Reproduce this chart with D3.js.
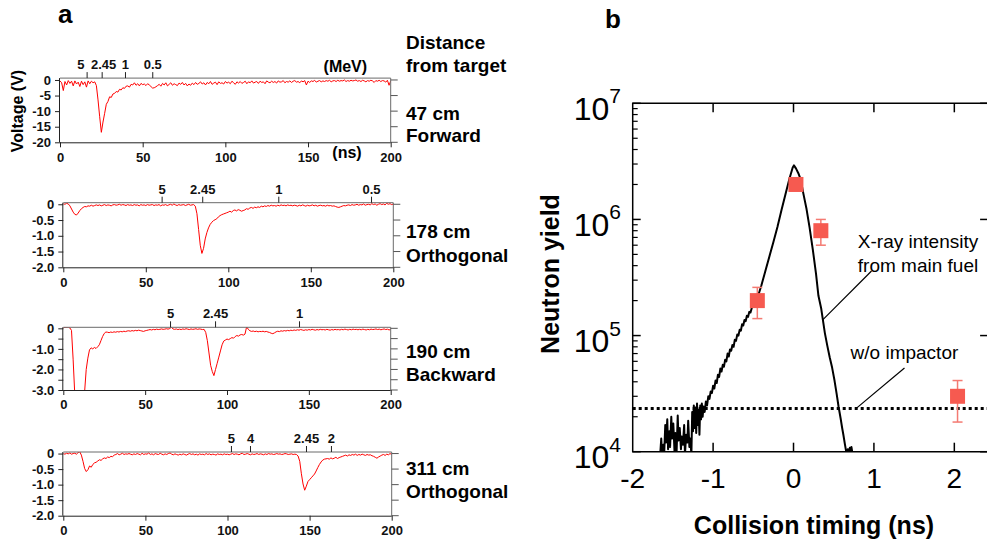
<!DOCTYPE html>
<html><head><meta charset="utf-8">
<script src="https://cdn.jsdelivr.net/npm/d3@7"></script>
<style>body{margin:0;background:#fff}svg{display:block}text{font-family:"Liberation Sans",Arial,Helvetica,sans-serif}</style>
</head><body><svg id="c" width="987" height="542"></svg>
<script>
// ---------------- DATA: panel a (neutron TOF signals, 1 ns sampling, t = 0..200 ns) ----------------
const timeTicks = [0, 50, 100, 150, 200];
const timeTickLabels = ["0", "50", "100", "150", "200"];
const sampleStepNs = 1;

const trace47 = [
-0.3,-0.9,-3.4,-0.5,-1.6,-0.2,-1.1,-0.4,-1.9,-0.3,-1.3,-0.7,-2.1,-0.4,-1.5,-0.6,-2.3,-0.3,-1.2,-0.4,-0.9,-0.6,-1.8,
-6.4,-11.8,-16.8,-13.5,-10.7,-7.8,-6.9,-5.4,-5.6,-4.5,-4.3,-3.7,-3.9,-3.0,-3.2,-2.5,-2.7,-2.0,
-1.9,-2.3,-1.4,-1.6,-0.9,-1.7,-1.2,-1.9,-1.1,-1.5,-1.3,-1.8,-1.2,-1.6,-2.1,-2.6,-2.5,-2.2,-1.8,-1.4,
-2.0,-1.1,-1.6,-0.9,-1.9,-1.4,-0.9,-1.7,-1.2,-1.5,-1.8,-1.0,-1.4,-0.8,-1.6,-1.1,-1.9,-1.3,-1.7,-1.0,
-1.5,-0.8,-1.4,-1.1,-0.6,-1.3,-0.9,-1.6,-0.8,-1.2,-0.5,-1.4,-1.0,-0.7,-1.5,-0.6,-1.1,-0.9,-1.3,-0.5,
-1.0,-0.7,-1.2,-0.4,-0.9,-1.4,-0.6,-1.0,-0.5,-1.1,-0.8,-0.4,-1.2,-0.6,-0.9,-0.3,-1.0,-0.7,-0.5,-1.1,
-0.4,-0.8,-0.6,-1.2,-0.3,-0.7,-0.9,-0.4,-0.8,-0.5,-1.0,-0.3,-0.7,-0.6,-0.2,-0.9,-0.5,-0.7,-0.3,-0.8,
-0.4,-0.2,-0.7,-0.5,-0.9,-0.3,-0.6,-0.2,-1.6,-0.4,-0.8,-0.3,-0.5,-0.1,-0.7,-0.4,-0.2,-0.6,-0.3,-0.5,
-0.2,-0.4,-0.1,-0.6,-0.3,-0.2,-0.5,-0.1,-0.4,-0.2,-0.3,0.0,-0.5,-0.2,-0.4,-0.1,-0.3,-0.2,0.0,-0.4,
-0.2,-0.5,-0.1,-0.3,-0.6,-0.2,-0.4,-0.1,-0.3,-0.8,-0.2,-0.4,-0.1,-0.5,-0.2,-0.3,-0.7,-0.1,-1.7,-0.3];

const trace178 = [
0.02,0.0,0.03,0.01,-0.05,-0.15,-0.25,-0.32,-0.34,-0.28,-0.2,
-0.14,-0.1,-0.07,-0.08,-0.05,-0.06,-0.03,-0.06,-0.04,-0.02,
-0.04,-0.02,-0.05,-0.03,-0.01,-0.04,-0.02,-0.03,-0.05,-0.02,-0.01,-0.03,-0.02,0.0,-0.03,-0.01,-0.02,-0.04,-0.01,-0.03,
-0.02,-0.04,-0.01,-0.03,-0.02,-0.05,-0.01,-0.03,-0.02,-0.04,-0.01,-0.03,-0.02,-0.01,-0.04,-0.02,-0.03,-0.01,-0.05,-0.02,
-0.03,-0.01,-0.04,-0.02,0.0,-0.03,0.01,-0.02,-0.04,-0.01,-0.03,-0.02,-0.01,-0.04,-0.02,0.0,-0.03,-0.02,-0.01,-0.06,
-0.3,-0.8,-1.3,-1.56,-1.4,-1.1,-0.9,-0.75,-0.64,-0.57,-0.52,-0.49,-0.46,-0.40,-0.36,-0.33,-0.31,-0.29,-0.27,-0.25,
-0.22,-0.25,-0.20,-0.18,-0.21,-0.17,-0.19,-0.22,-0.20,-0.18,-0.14,-0.16,-0.12,-0.10,-0.13,-0.09,-0.11,-0.08,-0.10,-0.06,
-0.08,-0.05,-0.07,-0.04,-0.06,-0.03,-0.05,-0.04,-0.06,-0.03,-0.05,-0.02,-0.04,-0.03,-0.05,-0.02,-0.04,-0.03,-0.05,-0.03,
-0.04,-0.06,-0.03,-0.05,-0.02,-0.04,-0.06,-0.03,-0.05,-0.04,-0.02,-0.05,-0.03,-0.06,-0.04,-0.03,-0.05,-0.04,-0.06,-0.03,
-0.05,-0.04,-0.06,-0.05,-0.07,-0.09,-0.10,-0.08,-0.06,-0.04,-0.05,-0.03,-0.02,-0.04,-0.01,-0.03,-0.02,0.0,-0.03,-0.01,
-0.02,0.01,-0.03,-0.01,0.0,-0.02,0.02,-0.01,0.01,-0.03,0.0,0.02,-0.01,0.01,-0.02,0.03,0.0,0.02,-0.01,0.01];

const trace190 = [
0.02,0.05,0.04,0.06,0.02,-0.1,-1.5,-3.2,-3.5,-3.5,-3.5,-3.5,-3.5,-3.1,-2.0,-1.45,-1.05,-0.95,-1.0,-0.93,-0.98,-0.9,-0.8,-0.6,-0.4,-0.25,-0.18,
-0.19,-0.21,-0.18,-0.2,-0.17,-0.19,-0.16,-0.18,-0.15,-0.17,-0.14,-0.16,-0.13,-0.12,-0.14,-0.11,-0.13,-0.1,-0.12,-0.09,-0.11,-0.13,-0.15,-0.12,
-0.1,-0.08,-0.06,-0.08,-0.05,-0.07,-0.04,-0.06,-0.05,-0.03,-0.05,-0.04,-0.02,-0.04,-0.01,0.05,-0.03,-0.05,-0.03,-0.06,
-0.04,-0.06,-0.03,-0.05,-0.02,-0.04,-0.06,-0.03,-0.05,-0.04,-0.02,-0.05,-0.03,-0.04,-0.06,-0.05,
-0.2,-0.6,-1.2,-1.8,-2.1,-2.3,-2.0,-1.7,-1.4,-1.1,-0.8,-0.62,-0.57,-0.52,
-0.55,-0.5,-0.45,-0.48,-0.4,-0.35,-0.38,-0.32,-0.3,-0.33,-0.28,0.08,-0.05,-0.12,-0.15,-0.13,-0.16,-0.14,-0.17,-0.15,
-0.16,-0.14,-0.17,-0.15,-0.18,-0.2,-0.24,-0.26,-0.22,-0.17,-0.14,-0.16,-0.12,-0.14,-0.11,-0.13,-0.1,-0.12,-0.09,-0.11,
-0.08,-0.1,-0.07,-0.09,-0.06,-0.08,-0.1,-0.07,-0.09,-0.06,-0.08,-0.05,-0.07,-0.09,-0.06,-0.08,-0.05,-0.07,-0.06,-0.08,
-0.05,-0.07,-0.09,-0.06,-0.08,-0.05,-0.07,-0.06,-0.08,-0.05,-0.07,-0.04,-0.06,-0.08,-0.05,-0.07,-0.04,-0.06,-0.05,-0.07,
-0.05,-0.07,-0.04,-0.06,-0.08,-0.05,-0.07,-0.04,-0.06,-0.05,-0.03,-0.06,-0.04,-0.07,-0.05,-0.03,-0.06,-0.04,-0.08,-0.05];

const trace311 = [
0.0,-0.02,0.01,-0.01,0.02,-0.02,0.0,0.01,-0.02,0.03,0.06,-0.05,-0.25,-0.48,-0.58,-0.52,-0.4,-0.44,-0.35,-0.3,-0.28,
-0.24,-0.2,-0.22,-0.17,-0.14,-0.16,-0.11,-0.13,-0.09,-0.1,-0.05,-0.03,0.0,-0.04,-0.02,0.01,-0.03,-0.01,-0.02,0.0,
-0.02,-0.04,-0.01,-0.03,0.0,-0.02,-0.04,0.01,-0.03,-0.01,-0.02,0.02,-0.03,-0.01,-0.04,0.0,-0.02,-0.03,0.01,-0.02,
-0.04,-0.01,-0.03,0.0,0.02,-0.02,-0.04,-0.01,-0.03,-0.05,-0.02,-0.04,-0.01,-0.03,-0.05,-0.02,0.0,-0.03,-0.01,-0.04,
-0.02,-0.05,-0.01,-0.03,-0.02,-0.04,0.0,-0.03,-0.01,-0.04,-0.02,-0.03,-0.05,-0.01,-0.03,-0.02,-0.04,-0.01,-0.03,-0.02,
-0.04,-0.02,0.0,-0.03,-0.01,-0.02,-0.04,-0.01,0.01,-0.03,-0.02,0.0,-0.02,-0.04,-0.01,-0.03,-0.02,0.0,-0.03,-0.01,
-0.02,-0.04,-0.01,-0.03,0.0,-0.02,-0.01,-0.03,-0.02,0.0,-0.02,-0.01,-0.03,-0.02,0.0,-0.01,-0.03,-0.02,-0.01,-0.03,
-0.02,-0.03,-0.08,-0.25,-0.65,-0.98,-1.18,-1.05,-0.9,-0.84,-0.78,-0.72,-0.66,-0.56,-0.45,-0.35,-0.27,-0.21,-0.18,-0.17,
-0.16,-0.18,-0.14,-0.17,-0.15,-0.12,-0.16,-0.13,-0.11,-0.09,-0.07,-0.05,-0.08,-0.04,-0.06,-0.03,-0.05,-0.02,-0.06,-0.03,
-0.05,-0.02,-0.04,-0.06,-0.03,-0.05,-0.04,-0.07,-0.09,-0.12,-0.15,-0.11,-0.08,-0.05,-0.03,-0.06,-0.02,-0.04,0.0,-0.03];

const distanceLabels = ["47 cm", "178 cm", "190 cm", "311 cm"];
const directionLabels = ["Forward", "Orthogonal", "Backward", "Orthogonal"];
const voltTicks = [[0,-5,-10,-15,-20],[0,-0.5,-1.0,-1.5,-2.0],[0,-0.5,-1.0,-1.5,-2.0,-2.5,-3.0],[0,-0.5,-1.0,-1.5,-2.0]];
const voltTickLabels = [["0","-5","-10","-15","-20"],["0","-0.5","-1.0","-1.5","-2.0"],["0","","-1.0","","-2.0","","-3.0"],["0","-0.5","-1.0","-1.5","-2.0"]];
const voltMin = [-20, -2, -3, -2];
const voltMax = [0.6, 0.05, 0.05, 0.05];
// neutron energy (MeV) ticks placed at their time of flight (ns)
const energyTickNs = [[16.1, 25.2, 39.3, 55.8],[59.6, 84.2, 130.3, 186.5],[65.2, 92.7, 144.0],[102.1, 113.7, 147.8, 163.0]];
const energyTickLabels = [["5","2.45","1","0.5"],["5","2.45","1","0.5"],["5","2.45","1"],["5","4","2.45","2"]];

// ---------------- DATA: panel b ----------------
const xrayTime = [-1.66,-1.645,-1.635,-1.62,-1.61,-1.595,-1.585,-1.57,-1.56,-1.545,-1.535,-1.52,-1.51,-1.495,-1.48,-1.47,-1.455,-1.44,-1.43,-1.415,-1.40,-1.39,-1.375,-1.36,-1.35,-1.335,-1.32,-1.31,-1.295,-1.285,-1.27,-1.26,-1.25,-1.24,-1.23,-1.22,-1.21,-1.20,-1.19,-1.18,-1.17,-1.16,-1.15,-1.14,-1.13,-1.12,-1.105,-1.09,-1.075,-1.06,-1.045,-1.03,-1.015,-1.0,-0.985,-0.97,-0.955,-0.94,-0.925,-0.91,-0.895,-0.88,-0.865,-0.85,-0.835,-0.82,-0.805,-0.79,-0.775,-0.76,-0.745,-0.73,-0.715,-0.70,-0.685,-0.67,-0.655,-0.64,-0.625,-0.61,-0.595,-0.58,-0.565,-0.55,-0.535,-0.52,-0.50,-0.48,-0.44,-0.40,-0.35,-0.30,-0.25,-0.20,-0.15,-0.10,-0.05,-0.01,0.005,0.03,0.06,0.09,0.12,0.16,0.20,0.24,0.28,0.31,0.345,0.37,0.39,0.42,0.45,0.48,0.51,0.535,0.56,0.585,0.605,0.62,0.64,0.655,0.665,0.675,0.685,0.70,0.71,0.72,0.735,0.74];
const xrayYield = [0.9e4,1.3e4,0.95e4,1.15e4,0.9e4,1.7e4,1.2e4,1.9e4,1.05e4,1.5e4,1.1e4,2.0e4,1.3e4,1.75e4,1.0e4,1.45e4,0.95e4,2.05e4,1.25e4,1.6e4,1.05e4,1.35e4,1.15e4,1.7e4,0.95e4,1.4e4,1.2e4,1.85e4,1.1e4,1.3e4,0.95e4,2.2e4,1.5e4,2.5e4,1.6e4,2.4e4,1.45e4,2.6e4,1.7e4,2.3e4,1.4e4,2.5e4,1.9e4,2.6e4,2.0e4,2.45e4,2.2e4,2.7e4,2.5e4,3.0e4,2.85e4,3.3e4,3.2e4,3.7e4,3.5e4,4.1e4,3.9e4,4.6e4,4.4e4,5.2e4,4.9e4,5.6e4,5.4e4,6.2e4,6.0e4,7.0e4,6.6e4,7.6e4,7.4e4,8.3e4,8.0e4,9.2e4,9.0e4,1.02e5,1.0e5,1.12e5,1.1e5,1.25e5,1.22e5,1.36e5,1.33e5,1.48e5,1.45e5,1.6e5,1.58e5,1.72e5,1.85e5,2.05e5,2.2e5,2.7e5,3.6e5,4.8e5,6.4e5,8.6e5,1.2e6,1.65e6,2.25e6,2.8e6,2.92e6,2.75e6,2.5e6,2.2e6,1.7e6,1.25e6,8.5e5,5.5e5,3.4e5,2.2e5,1.7e5,1.3e5,1.05e5,8.2e4,6.5e4,5.3e4,4.1e4,3.2e4,2.45e4,1.95e4,1.6e4,1.4e4,1.15e4,1.0e4,0.95e4,1.05e4,0.95e4,1.08e4,0.95e4,1.1e4,0.95e4,0.9e4];
const withoutImpactorYield = 2.36e4;
const neutronTime = [-0.45, 0.03, 0.34, 2.04];
const neutronYield = [2.0e5, 2.0e6, 8.0e5, 3.0e4];
const neutronLow = [1.4e5, 2.0e6, 6.0e5, 1.8e4];
const neutronHigh = [2.6e5, 2.0e6, 1.0e6, 4.1e4];
const timingTicks = [-2, -1, 0, 1, 2];
const timingTickLabels = ["-2", "-1", "0", "1", "2"];
const yieldDecades = [1e4, 1e5, 1e6, 1e7];
const yieldDecadeExp = ["4", "5", "6", "7"];
const annotationText = ["X-ray intensity", "from main fuel", "w/o impactor"];
const annotationAt = [[0.8, 5.69e5], [0.8, 3.55e5], [0.71, 6.25e4]];
const leaderLines = [[[0.36, 1.36e5], [0.97, 3.6e5]], [[0.78, 2.36e4], [1.38, 5.26e4]]];

// ---------------- DRAWING ----------------
const svg = d3.select("#c");
svg.append("rect").attr("width", 987).attr("height", 542).attr("fill", "#fff");
const defs = svg.append("defs");
const BOLD = "bold";

// panel letters
svg.append("text").attr("x", 58).attr("y", 23).attr("font-size", 26).attr("font-weight", BOLD).text("a");
svg.append("text").attr("x", 605).attr("y", 28).attr("font-size", 26).attr("font-weight", BOLD).text("b");

// ---- panel a ----
const traces = [trace47, trace178, trace190, trace311];
const boxes = [
  {x0: 60, x1: 390.7, yt: 78.1, yb: 142.3},
  {x0: 63.3, x1: 393.3, yt: 202.7, yb: 267.3},
  {x0: 63.3, x1: 390.7, yt: 327.3, yb: 390},
  {x0: 63.3, x1: 391.7, yt: 452, yb: 515.7}
];
const labelBase = [[120, 141.7], [238.3, 261.5], [358.3, 381], [475, 498.3]];

traces.forEach((vals, k) => {
  const b = boxes[k];
  const x = d3.scaleLinear().domain([0, 200]).range([b.x0, b.x1]);
  const y = d3.scaleLinear().domain([voltMin[k], voltMax[k]]).range([b.yb, b.yt]);
  const g = svg.append("g");
  const cid = "clipA" + k;
  defs.append("clipPath").attr("id", cid).append("rect")
    .attr("x", b.x0).attr("y", b.yt).attr("width", b.x1 - b.x0).attr("height", b.yb - b.yt);
  g.append("path").datum(vals).attr("clip-path", `url(#${cid})`)
    .attr("d", d3.line().x((d, i) => x(i * sampleStepNs)).y(d => y(d)))
    .attr("fill", "none").attr("stroke", "#ff0000").attr("stroke-width", 1).attr("stroke-linejoin", "round");

  // frame
  g.append("line").attr("x1", b.x0).attr("x2", b.x1).attr("y1", b.yt).attr("y2", b.yt).attr("stroke", "#6b6b6b");
  g.append("line").attr("x1", b.x1).attr("x2", b.x1).attr("y1", b.yt).attr("y2", b.yb).attr("stroke", "#6b6b6b");

  // left axis
  const ya = g.append("g").attr("transform", `translate(${b.x0},0)`)
    .call(d3.axisLeft(y).tickValues(voltTicks[k]).tickSize(5).tickPadding(4)
      .tickFormat((d, i) => voltTickLabels[k][i]));
  ya.select(".domain").attr("d", `M-0.5,${b.yt}V${b.yb}`).attr("stroke", "#222");
  // right ticks
  voltTicks[k].forEach(v => {
    g.append("line").attr("x1", b.x1).attr("x2", b.x1 + 7).attr("y1", y(v)).attr("y2", y(v)).attr("stroke", "#555");
  });
  // bottom axis
  const xa = g.append("g").attr("transform", `translate(0,${b.yb})`)
    .call(d3.axisBottom(x).tickValues(timeTicks).tickSize(5).tickPadding(5)
      .tickFormat((d, i) => timeTickLabels[i]));
  xa.select(".domain").attr("d", `M${b.x0},0.5H${b.x1}`).attr("stroke", "#222");
  // top energy axis
  const ta = g.append("g").attr("transform", `translate(0,${b.yt})`)
    .call(d3.axisTop(x).tickValues(energyTickNs[k]).tickSize(6).tickPadding(3)
      .tickFormat((d, i) => energyTickLabels[k][i]));
  ta.select(".domain").remove();
  [ya, xa, ta].forEach(a => {
    a.selectAll("text").attr("font-size", 13).attr("font-weight", BOLD).attr("fill", "#111")
      .style("font-family", '"Liberation Sans",Arial,sans-serif');
    a.selectAll("line").attr("stroke", "#222");
  });
  // avoid overlapping energy labels (compare absolute extents)
  const texts = ta.selectAll("text").nodes();
  const shifts = texts.map(() => 0);
  for (let i = 0; i < texts.length - 1; i++) {
    const a = texts[i].getBBox(), c = texts[i + 1].getBBox();
    const ra = x(energyTickNs[k][i]) + a.x + a.width + shifts[i];
    const lc = x(energyTickNs[k][i + 1]) + c.x;
    if (ra + 2 > lc) {
      const ov = ra + 2 - lc;
      shifts[i] -= ov + 3;
      shifts[i + 1] += 1.5;
    }
  }
  texts.forEach((t, i) => d3.select(t).attr("x", shifts[i]));
  // right labels
  svg.append("text").attr("x", 406).attr("y", labelBase[k][0]).attr("font-size", 19).attr("font-weight", BOLD).text(distanceLabels[k]);
  svg.append("text").attr("x", 406).attr("y", labelBase[k][1]).attr("font-size", 19).attr("font-weight", BOLD).text(directionLabels[k]);
  if (k === 0) {
    svg.append("text").attr("x", (b.x0 + b.x1) / 2 + 120).attr("y", 71.5).attr("text-anchor", "middle")
      .attr("font-size", 16).attr("font-weight", BOLD).text("(MeV)");
    svg.append("text").attr("x", 347).attr("y", 158).attr("text-anchor", "middle")
      .attr("font-size", 16).attr("font-weight", BOLD).text("(ns)");
  }
});
svg.append("text").attr("x", 406).attr("y", 49.3).attr("font-size", 19).attr("font-weight", BOLD).text("Distance");
svg.append("text").attr("x", 406).attr("y", 72).attr("font-size", 19).attr("font-weight", BOLD).text("from target");
svg.append("text").attr("transform", "translate(23,111) rotate(-90)").attr("text-anchor", "middle")
  .attr("font-size", 16).attr("font-weight", BOLD).text("Voltage (V)");

// ---- panel b ----
const L = 632.7, R = 988.1, T = 103.3, B = 451.7;
const xb = d3.scaleLinear().domain([-2, 2.42]).range([L, R]);
const yb = d3.scaleLog().domain([1e4, 1e7]).range([B, T]);
const gb = svg.append("g");
defs.append("clipPath").attr("id", "clipB").append("rect").attr("x", L).attr("y", T).attr("width", R - L).attr("height", B - T);

// dotted reference line
gb.append("line").attr("x1", xb(-2)).attr("x2", xb(2.42))
  .attr("y1", yb(withoutImpactorYield)).attr("y2", yb(withoutImpactorYield))
  .attr("stroke", "#000").attr("stroke-width", 3).attr("stroke-dasharray", "3,3");

// X-ray curve
gb.append("path").datum(d3.range(xrayTime.length)).attr("clip-path", "url(#clipB)")
  .attr("d", d3.line().x(i => xb(xrayTime[i])).y(i => yb(xrayYield[i])))
  .attr("fill", "none").attr("stroke", "#000").attr("stroke-width", 2).attr("stroke-linejoin", "round");

// error bars + squares
neutronTime.forEach((t, i) => {
  const cx = xb(t);
  if (neutronHigh[i] > neutronLow[i]) {
    gb.append("line").attr("x1", cx).attr("x2", cx).attr("y1", yb(neutronLow[i])).attr("y2", yb(neutronHigh[i]))
      .attr("stroke", "#f47a72").attr("stroke-width", 1.5);
    [neutronLow[i], neutronHigh[i]].forEach(v => {
      gb.append("line").attr("x1", cx - 5).attr("x2", cx + 5).attr("y1", yb(v)).attr("y2", yb(v))
        .attr("stroke", "#f47a72").attr("stroke-width", 1.5);
    });
  }
  gb.append("rect").attr("x", cx - 7.5).attr("y", yb(neutronYield[i]) - 7.5).attr("width", 15).attr("height", 15)
    .attr("fill", "#f65a50");
});

// frame
gb.append("path").attr("d", `M${L},${T}H${R}V${B}H${L}Z`).attr("fill", "none").attr("stroke", "#000").attr("stroke-width", 1.5);
// x ticks (inward top & bottom)
timingTicks.forEach((t, i) => {
  if (t > -2) {
    gb.append("line").attr("x1", xb(t)).attr("x2", xb(t)).attr("y1", B).attr("y2", B - 9).attr("stroke", "#000").attr("stroke-width", 1.5);
    gb.append("line").attr("x1", xb(t)).attr("x2", xb(t)).attr("y1", T).attr("y2", T + 9).attr("stroke", "#000").attr("stroke-width", 1.5);
  }
  gb.append("text").attr("x", xb(t)).attr("y", 487.7).attr("text-anchor", "middle").attr("font-size", 28).text(timingTickLabels[i]);
});
// y ticks
yieldDecades.forEach((v, i) => {
  gb.append("line").attr("x1", L).attr("x2", L + 8).attr("y1", yb(v)).attr("y2", yb(v)).attr("stroke", "#000").attr("stroke-width", 1.5);
  gb.append("line").attr("x1", R).attr("x2", R - 8).attr("y1", yb(v)).attr("y2", yb(v)).attr("stroke", "#000").attr("stroke-width", 1.5);
  if (i < yieldDecades.length - 1) {
    for (let m = 2; m <= 9; m++) {
      gb.append("line").attr("x1", L).attr("x2", L + 5).attr("y1", yb(v * m)).attr("y2", yb(v * m)).attr("stroke", "#000").attr("stroke-width", 1.2);
    }
  }
  const tx = gb.append("text").attr("x", 621).attr("y", yb(v) + 16.6).attr("text-anchor", "end").attr("font-size", 32);
  tx.append("tspan").text("10");
  tx.append("tspan").attr("dy", -16.6).attr("font-size", 21).text(yieldDecadeExp[i]);
});

// annotations
annotationText.forEach((s, i) => {
  gb.append("text").attr("x", xb(annotationAt[i][0])).attr("y", yb(annotationAt[i][1])).attr("font-size", 19).text(s);
});
leaderLines.forEach(l => {
  gb.append("line").attr("x1", xb(l[0][0])).attr("y1", yb(l[0][1])).attr("x2", xb(l[1][0])).attr("y2", yb(l[1][1]))
    .attr("stroke", "#000").attr("stroke-width", 1.2);
});

// axis titles
svg.append("text").attr("transform", "translate(559,274) rotate(-90)").attr("text-anchor", "middle")
  .attr("font-size", 25).attr("font-weight", BOLD).text("Neutron yield");
svg.append("text").attr("x", 814).attr("y", 534).attr("text-anchor", "middle")
  .attr("font-size", 25).attr("font-weight", BOLD).text("Collision timing (ns)");
</script></body></html>
